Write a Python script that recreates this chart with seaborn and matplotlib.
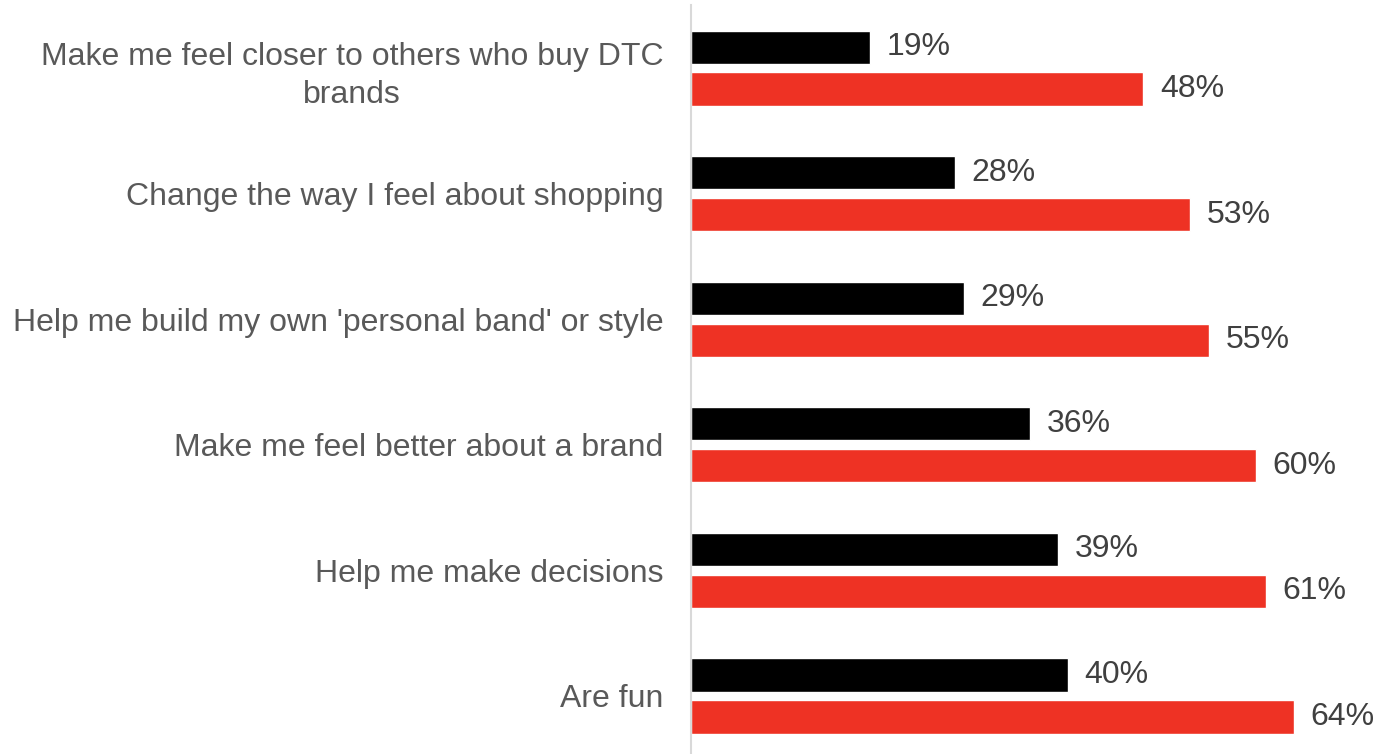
import matplotlib
matplotlib.use("Agg")
import matplotlib.pyplot as plt
import seaborn as sns
import pandas as pd

categories = [
    "Make me feel closer to others who buy DTC\nbrands",
    "Change the way I feel about shopping",
    "Help me build my own 'personal band' or style",
    "Make me feel better about a brand",
    "Help me make decisions",
    "Are fun",
]
series_names = ["Group A", "Group B"]
values_a = [19, 28, 29, 36, 39, 40]
values_b = [48, 53, 55, 60, 61, 64]
colors = ["#000000", "#EE3224"]

df = pd.DataFrame({
    "category": categories * 2,
    "series": [series_names[0]] * len(categories) + [series_names[1]] * len(categories),
    "value": values_a + values_b,
})

sns.set_theme(style="white")
plt.rcParams["font.family"] = ["Liberation Sans", "DejaVu Sans"]

fig = plt.figure(figsize=(13.76, 7.54), dpi=100)
ax = fig.add_axes([691 / 1376, 0.0, 1 - 691 / 1376, 1 - 5 / 754])

sns.barplot(
    data=df, y="category", x="value", hue="series", order=categories,
    hue_order=series_names, palette=colors, orient="h",
    width=0.668, gap=0.21, legend=False, ax=ax, saturation=1,
)

for container in ax.containers:
    ax.bar_label(container, fmt="%d%%", padding=12, fontsize=23, color="#404040")

ax.set_xlim(0, (1376 - 691) / 9.42)
ax.set_ylim(5.462, -0.502)
ax.set_xlabel("")
ax.set_ylabel("")
ax.set_xticks([])
ax.tick_params(axis="y", length=0, pad=20, labelsize=23, labelcolor="#595959")
for lbl in ax.get_yticklabels():
    lbl.set_multialignment("center")
    lbl.set_linespacing(1.38)

for side in ["top", "right", "bottom"]:
    ax.spines[side].set_visible(False)
ax.spines["left"].set_color("#D9D9D9")
ax.spines["left"].set_linewidth(1.5)

fig.savefig("out.png", dpi=100)
